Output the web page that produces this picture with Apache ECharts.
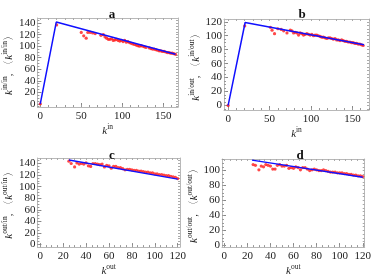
<!DOCTYPE html>
<html><head><meta charset="utf-8">
<script src="https://cdn.jsdelivr.net/npm/echarts@6/dist/echarts.min.js"></script>
<style>html,body{margin:0;padding:0;background:#fff}#c{width:374px;height:278px}</style>
</head><body><div id="c"></div>
<script>
// ---- data ----
const aRed = [[0,0],[20,137],[50,124],[53,118],[56,114],[58,124],[61,124],[64,123],[67,122],[74,119],[77,120],[79,116],[81,114],[83,112],[85,112],[87,113],[89,110],[91,111],[93,112],[95,110],[97,109],[99,110],[101,108],[103,110],[105,107],[107,108],[109,106],[111,105],[113,104],[115,103],[117,102],[119,101],[121,100],[123,101],[125,100],[127,99],[129,98],[133,97],[135,96],[137,95],[139,95],[141,94],[143,93],[145,92],[147,92],[149,91],[151,91],[153,90],[155,89],[157,89],[159,88],[161,88],[163,87],[165,86]];
const aBlue = [[0,0],[19.5,142],[165,86]];
const bRed = [[0,0],[20,114],[51,112],[53,108],[56,103],[60,110],[64,109],[67,107],[71,104],[75,108],[77,107],[79,104],[81,105],[83,104],[85,101],[87,104],[89,103],[91,101],[93,102],[95,103],[97,102],[99,101],[101,102],[103,100],[105,101],[107,101],[109,100],[111,99],[113,98],[115,98],[117,97],[119,96],[121,97],[123,97],[125,96],[127,95],[129,96],[131,94],[133,94],[135,93],[137,94],[139,93],[141,92],[143,92],[145,91],[147,91],[149,90],[151,90],[153,89],[155,89],[157,88],[159,88],[161,87],[163,86]];
const bBlue = [[0,0],[20.5,119],[164,87]];
const cRed = [[25,144],[27,140],[30,134],[32,141],[34,139],[36,140],[38,139],[40,141],[42,136],[44,135],[46,140],[48,140],[50,139],[52,138],[54,139],[56,134],[58,137],[60,136],[62,132],[64,135],[66,135],[68,133],[70,133],[72,131],[74,129],[76,130],[78,130],[80,129],[82,128],[84,128],[86,127],[88,127],[90,126],[92,125],[94,125],[96,124],[98,124],[100,122],[102,122],[104,121],[106,121],[108,120],[110,119],[112,119],[114,118],[116,117],[118,116],[120,114]];
const cBlue = [[25,146],[120,113]];
const dRed = [[25,108],[27,107],[30,101],[32,106],[34,105],[36,108],[38,107],[40,106],[42,102],[44,102],[46,107],[48,108],[50,106],[52,106],[54,107],[56,103],[58,104],[60,103],[62,105],[64,104],[66,101],[68,104],[70,104],[72,102],[74,100],[76,101],[78,102],[80,101],[82,100],[84,100],[86,101],[88,100],[90,99],[92,98],[94,98],[96,98],[98,97],[100,97],[102,97],[104,96],[106,96],[108,95],[110,95],[112,94],[114,94],[116,93],[118,93],[120,92]];
const dBlue = [[24,114],[120,91]];
const xTicksIn = [0,50,100,150];
const xTicksOut = [0,20,40,60,80,100,120];
const yTicksA = [0,20,40,60,80,100,120,140];
const yTicksB = [0,20,40,60,80,100,120];
const yTicksD = [0,20,40,60,80,100];
const titles = ['a','b','c','d'];

// ---- layout ----
const SERIF = '"Liberation Serif","Times New Roman",serif';
const panels = [
  {grid:{left:37,top:18,width:141,height:89}, x:[-3.5,168], y:[-5.5,149], xt:xTicksIn, xm:10, yt:yTicksA, ym:5, red:aRed, blue:aBlue, xs:'in', ys:'in/in', tx:107, ty:3},
  {grid:{left:224,top:19,width:145,height:91}, x:[-5,170], y:[-6.5,124], xt:xTicksIn, xm:10, yt:yTicksB, ym:5, red:bRed, blue:bBlue, xs:'in', ys:'in/out', tx:297, ty:3},
  {grid:{left:32,top:158,width:148,height:91}, x:[-2.5,122], y:[-4.5,149.5], xt:xTicksOut, xm:5, yt:yTicksA, ym:5, red:cRed, blue:cBlue, xs:'out', ys:'out/in', tx:107, ty:144},
  {grid:{left:222,top:159,width:147,height:90}, x:[-2,121.7], y:[-2.5,115.5], xt:xTicksOut, xm:5, yt:yTicksD, ym:5, red:dRed, blue:dBlue, xs:'out', ys:'out/out', tx:295, ty:144}
];
function minor(lo, hi, step){ const r=[]; for(let v=Math.ceil(lo/step)*step; v<=hi; v+=step) r.push(v); return r; }
const rich = {
  k:{fontFamily:SERIF,fontStyle:'italic',fontSize:11,color:'#222',lineHeight:14,verticalAlign:'bottom'},
  s:{fontFamily:SERIF,fontSize:7.5,color:'#222',lineHeight:14,verticalAlign:'top'},
  n:{fontFamily:SERIF,fontSize:11,color:'#222',lineHeight:14,verticalAlign:'bottom'}
};
const frame = '#b8b8b8';
const grids=[], xAxes=[], yAxes=[], series=[], title=[];
panels.forEach((p,i)=>{
  grids.push(Object.assign({show:false}, p.grid));
  title.push({text:titles[i], left:p.tx, top:p.ty, textAlign:'center', textStyle:{fontFamily:SERIF,fontWeight:'bold',fontSize:13,color:'#111'}});
  const xm = minor(p.x[0],p.x[1],p.xm), ym = minor(p.y[0],p.y[1],p.ym);
  const base = {type:'value', gridIndex:i, splitLine:{show:false}};
  xAxes.push(Object.assign({}, base, {position:'bottom', min:p.x[0], max:p.x[1],
    name:'{k|k}{s|'+p.xs+'}', nameLocation:'middle', nameGap:10, nameTextStyle:{rich},
    axisLine:{show:true,onZero:false,lineStyle:{color:frame,width:1}},
    axisTick:{show:true,inside:true,length:4,customValues:p.xt,lineStyle:{color:'#888'}},
    axisLabel:{show:true,customValues:p.xt,margin:4,fontFamily:SERIF,fontSize:11,color:'#222'}}));
  xAxes.push(Object.assign({}, base, {position:'bottom', min:p.x[0], max:p.x[1],
    axisLine:{show:false,onZero:false}, axisLabel:{show:false},
    axisTick:{show:true,inside:true,length:2,customValues:xm,lineStyle:{color:'#999'}}}));
  xAxes.push(Object.assign({}, base, {position:'top', min:p.x[0], max:p.x[1],
    axisLine:{show:true,onZero:false,lineStyle:{color:frame,width:1}}, axisLabel:{show:false},
    axisTick:{show:true,inside:true,length:2,customValues:xm,lineStyle:{color:'#aaa'}}}));
  yAxes.push(Object.assign({}, base, {position:'left', min:p.y[0], max:p.y[1],
    name:'{k|k}{s|'+p.ys+'}{n|, 〈}{k|k}{s|'+p.ys+'}{n|〉}', nameLocation:'middle', nameRotate:90, nameGap:22, nameTextStyle:{rich},
    axisLine:{show:true,onZero:false,lineStyle:{color:frame,width:1}},
    axisTick:{show:true,inside:true,length:4,customValues:p.yt,lineStyle:{color:'#888'}},
    axisLabel:{show:true,customValues:p.yt,margin:2,fontFamily:SERIF,fontSize:11,color:'#222'}}));
  yAxes.push(Object.assign({}, base, {position:'left', min:p.y[0], max:p.y[1],
    axisLine:{show:false,onZero:false}, axisLabel:{show:false},
    axisTick:{show:true,inside:true,length:2,customValues:ym,lineStyle:{color:'#999'}}}));
  yAxes.push(Object.assign({}, base, {position:'right', min:p.y[0], max:p.y[1],
    axisLine:{show:true,onZero:false,lineStyle:{color:frame,width:1}}, axisLabel:{show:false},
    axisTick:{show:true,inside:true,length:2,customValues:ym,lineStyle:{color:'#aaa'}}}));
  series.push({type:'scatter', xAxisIndex:i*3, yAxisIndex:i*3, data:p.red, symbol:'circle', symbolSize:3.2, itemStyle:{color:'#ff1a1a'}, z:3, animation:false});
  series.push({type:'line', xAxisIndex:i*3, yAxisIndex:i*3, data:p.blue, symbol:'none', lineStyle:{color:'#1010ff',width:1.5}, z:4, animation:false});
});
const chart = echarts.init(document.getElementById('c'), null, {renderer:'canvas'});
chart.setOption({animation:false, backgroundColor:'#fff', title, grid:grids, xAxis:xAxes, yAxis:yAxes, series});
</script></body></html>
